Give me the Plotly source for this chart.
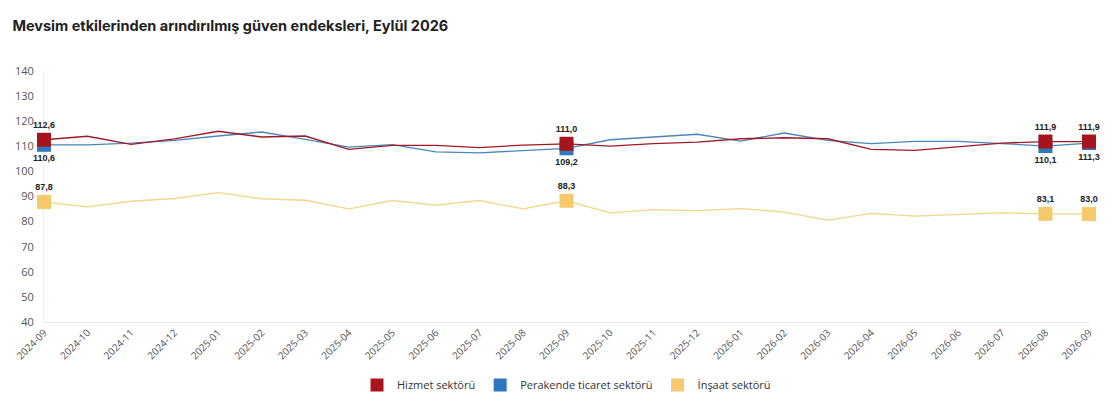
import plotly.graph_objects as go

MONTHS = [
    "2024-09", "2024-10", "2024-11", "2024-12", "2025-01", "2025-02", "2025-03",
    "2025-04", "2025-05", "2025-06", "2025-07", "2025-08", "2025-09", "2025-10",
    "2025-11", "2025-12", "2026-01", "2026-02", "2026-03", "2026-04", "2026-05",
    "2026-06", "2026-07", "2026-08", "2026-09",
]
HIZMET = [112.6, 114.0, 110.8, 113.0, 116.0, 113.7, 114.1, 108.8, 110.4, 110.4, 109.5, 110.5,
          111.0, 110.1, 111.1, 111.7, 113.0, 113.4, 113.0, 108.8, 108.4, 109.7, 111.3, 111.9, 111.9]
PERAKENDE = [110.6, 110.6, 111.3, 112.4, 114.1, 115.7, 112.8, 109.7, 110.7, 107.8, 107.4, 108.2,
             109.2, 112.6, 113.7, 114.8, 112.1, 115.3, 112.4, 111.1, 112.0, 112.0, 111.1, 110.1, 111.3]
INSAAT = [87.8, 85.9, 88.1, 89.2, 91.5, 89.1, 88.5, 85.1, 88.4, 86.6, 88.4, 85.1,
          88.3, 83.5, 84.8, 84.4, 85.2, 83.8, 80.6, 83.3, 82.2, 82.9, 83.5, 83.1, 83.0]
HIGHLIGHT = [0, 12, 23, 24]

SERIES = [
    ("Hizmet sektörü", HIZMET, "#9e1b26", "#a8141d", "top center"),
    ("Perakende ticaret sektörü", PERAKENDE, "#4a86b8", "#2f78bd", "bottom center"),
    ("İnşaat sektörü", INSAAT, "#f4d589", "#f6c96c", "top center"),
]


def fmt(v):
    return "<b>" + f"{v:.1f}".replace(".", ",") + "</b>"


fig = go.Figure()

# lines first (yellow, blue, red), then highlighted markers on top, red last
for name, vals, line_col, mark_col, pos in reversed(SERIES):
    fig.add_trace(go.Scatter(
        x=MONTHS, y=vals, mode="lines", name=name, showlegend=False,
        line=dict(color=line_col, width=1.3),
    ))

for name, vals, line_col, mark_col, pos in reversed(SERIES):
    fig.add_trace(go.Scatter(
        x=[MONTHS[i] for i in HIGHLIGHT],
        y=[vals[i] for i in HIGHLIGHT],
        mode="markers+text",
        text=[fmt(vals[i]) for i in HIGHLIGHT],
        textposition=pos,
        textfont=dict(family="Liberation Sans, Arial, sans-serif", size=9, color="#222"),
        marker=dict(symbol="square", size=14, color=mark_col),
        cliponaxis=False,
        showlegend=False,
    ))

# legend-only entries with square swatches
for name, vals, line_col, mark_col, pos in SERIES:
    fig.add_trace(go.Scatter(
        x=[None], y=[None], mode="markers", name=name,
        marker=dict(symbol="square", size=13, color=mark_col),
    ))

# page body has an 8px margin, so the figure is 8px smaller than the window
fig.update_layout(
    width=1109, height=402,
    paper_bgcolor="white", plot_bgcolor="white",
    margin=dict(l=36, r=28, t=63, b=87),
    font=dict(family="Open Sans, Lato, sans-serif", color="#555"),
    title=dict(
        text="<b>Mevsim etkilerinden arındırılmış güven endeksleri, Eylül 2026</b>",
        font=dict(family="Inter, Open Sans, sans-serif", size=14.5, color="#222"),
        x=0.004, xanchor="left", y=0.955, yanchor="middle",
    ),
    xaxis=dict(
        type="category", range=[0, 24], showgrid=False, zeroline=False,
        showline=True, linecolor="#e6e6e6", linewidth=1, automargin=False,
        tickangle=-45, tickfont=dict(size=10, color="#555"), ticks="",
        layer="below traces",
    ),
    yaxis=dict(
        range=[40, 140], dtick=10, showgrid=False, zeroline=False,
        showline=True, linecolor="#eeeeee", linewidth=1, automargin=False,
        tickfont=dict(size=11, color="#555"), ticks="", ticklabelstandoff=7,
        layer="below traces",
    ),
    legend=dict(
        orientation="h", x=0.5, xanchor="center", y=-0.246, yanchor="middle",
        font=dict(size=11, color="#333"), itemwidth=30,
    ),
)

fig.write_html("out.html")
